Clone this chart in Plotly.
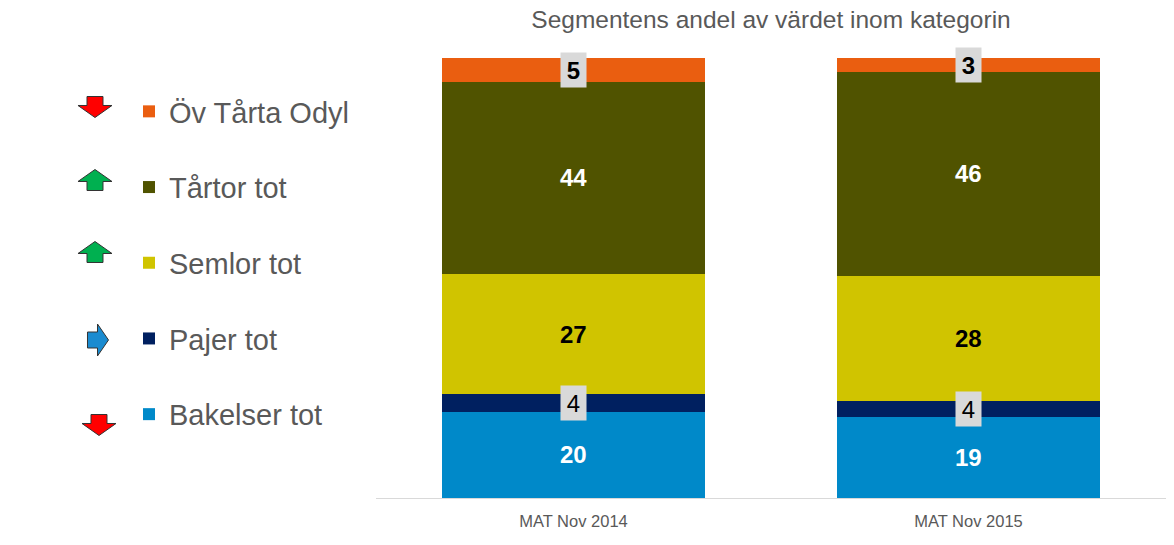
import plotly.graph_objects as go

# ---------------- data ----------------
categories = ["MAT Nov 2014", "MAT Nov 2015"]
series_names = ["Bakelser tot", "Pajer tot", "Semlor tot", "Tårtor tot", "Öv Tårta Odyl"]

bakelser = [19.6, 18.5]
pajer = [4.0, 3.6]
semlor = [27.3, 28.4]
tartor = [43.7, 46.3]
ov_tarta = [5.4, 3.2]

bakelser_labels = ["20", "19"]
pajer_labels = ["4", "4"]
semlor_labels = ["27", "28"]
tartor_labels = ["44", "46"]
ov_tarta_labels = ["5", "3"]

trend = ["down", "right", "up", "up", "down"]  # per series, same order as series_names

title_text = "Segmentens andel av värdet inom kategorin"

# ---------------- style ----------------
colors = ["#0089C9", "#002060", "#D0C400", "#505300", "#EA5E10"]
label_color = ["white", "black", "black", "white", "black"]
label_bold = [True, False, True, True, True]
label_boxed = [False, True, False, False, True]
trend_fill = {"down": "#FF0000", "up": "#00B050", "right": "#1A8BD0"}

FONT = "Liberation Sans, Arial, sans-serif"
GREY = "#595959"

W, H = 1174, 545
ML, MR, MT, MB = 376, 8, 58, 47
PW, PH = W - ML - MR, H - MT - MB

all_values = [bakelser, pajer, semlor, tartor, ov_tarta]
all_labels = [bakelser_labels, pajer_labels, semlor_labels, tartor_labels, ov_tarta_labels]

fig = go.Figure()
n = len(series_names)
for i, (name, vals) in enumerate(zip(series_names, all_values)):
    fig.add_trace(go.Bar(
        x=categories, y=vals, name=name, legendgroup=name, legendrank=n - i,
        marker=dict(color=colors[i], line=dict(width=0)),
        hoverinfo="name+y",
    ))

# data labels, centred in each segment
annotations = []
for ci, cat in enumerate(categories):
    base = 0.0
    for si in range(n):
        v = all_values[si][ci]
        mid = base + v / 2
        base += v
        txt = all_labels[si][ci]
        if label_bold[si]:
            txt = "<b>" + txt + "</b>"
        ann = dict(x=cat, y=mid, xref="x", yref="y", text=txt, showarrow=False,
                   font=dict(family=FONT, size=24, color=label_color[si]),
                   xanchor="center", yanchor="middle")
        if label_boxed[si]:
            ann.update(bgcolor="#D9D9D9", width=25, height=34, borderpad=0)
        annotations.append(ann)

# helper: figure pixel -> paper coordinates
def px2paper(px, py):
    return (px - ML) / PW, (H - MB - py) / PH

# trend arrows next to legend entries (decoration)
arrow_pos = [(99, 425), (98, 340), (95, 252), (95, 180), (95, 107)]  # same order as series

def arrow_path(cx, cy, direction):
    if direction in ("down", "up"):
        L, Wd, S, Hd = 21, 34, 16, 12
        s = 1 if direction == "down" else -1
        y0 = cy - s * L / 2
        yb = cy + s * (L / 2 - Hd)
        y1 = cy + s * L / 2
        pts = [(cx - S / 2, y0), (cx + S / 2, y0), (cx + S / 2, yb), (cx + Wd / 2, yb),
               (cx, y1), (cx - Wd / 2, yb), (cx - S / 2, yb)]
    else:
        L, Wd, S, Hd = 21, 32, 16, 11
        x0 = cx - L / 2
        xb = cx + L / 2 - Hd
        x1 = cx + L / 2
        pts = [(x0, cy - S / 2), (xb, cy - S / 2), (xb, cy - Wd / 2), (x1, cy),
               (xb, cy + Wd / 2), (xb, cy + S / 2), (x0, cy + S / 2)]
    p = [px2paper(a, b) for a, b in pts]
    return "M " + " L ".join(f"{a:.5f},{b:.5f}" for a, b in p) + " Z"

shapes = []
for si, d in enumerate(trend):
    cx, cy = arrow_pos[si]
    shapes.append(dict(type="path", xref="paper", yref="paper", path=arrow_path(cx, cy, d),
                       fillcolor=trend_fill[d], line=dict(color="#333333", width=1), layer="above"))

leg_x, leg_y = px2paper(129, 86)

fig.update_layout(
    width=W, height=H,
    margin=dict(l=ML, r=MR, t=MT, b=MB),
    barmode="stack", bargap=0.332,
    plot_bgcolor="white", paper_bgcolor="white",
    font=dict(family=FONT, color=GREY),
    title=dict(text=title_text, x=0.5, xref="paper", xanchor="center",
               y=1 - 19 / H, yref="container", yanchor="middle",
               font=dict(family=FONT, size=24.5, color=GREY)),
    xaxis=dict(showline=True, linecolor="#D9D9D9", linewidth=1, ticks="",
               tickfont=dict(family=FONT, size=16.5, color=GREY), showgrid=False,
               ticklabelstandoff=8),
    yaxis=dict(range=[0, 100], visible=False),
    showlegend=True,
    legend=dict(traceorder="grouped", tracegroupgap=35,
                font=dict(family=FONT, size=29, color=GREY),
                x=leg_x, xanchor="left", y=leg_y, yanchor="top",
                bgcolor="rgba(0,0,0,0)"),
    annotations=annotations,
    shapes=shapes,
)

fig.write_html("out.html", config={"displayModeBar": False},
               post_script="document.body.style.margin='0';document.body.style.overflow='hidden';")
